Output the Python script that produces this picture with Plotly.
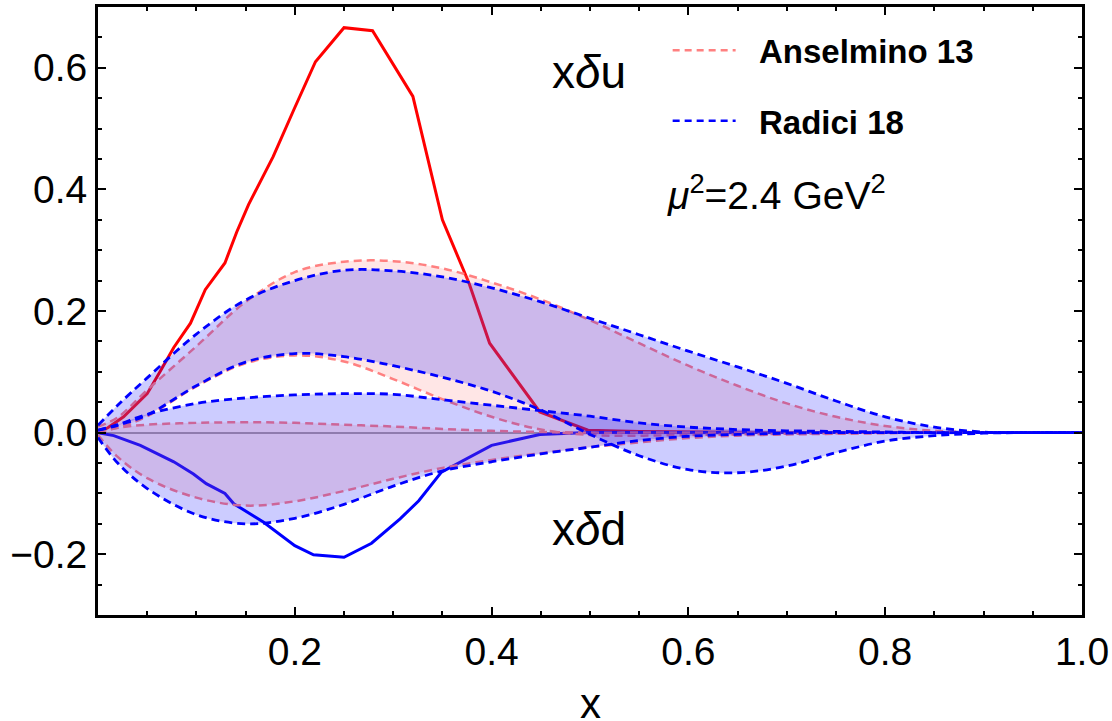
import plotly.graph_objects as go

# Common x grid for the uncertainty bands
x_grid = [0, 0.02, 0.05, 0.1, 0.15, 0.2, 0.25, 0.3, 0.35, 0.4, 0.45, 0.5,
          0.55, 0.6, 0.65, 0.7, 0.75, 0.8, 0.85, 0.9, 0.95, 1.0]

# Anselmino 13: x*delta u band
ans_u_hi = [0.01, 0.025, 0.07, 0.142, 0.215, 0.264, 0.281, 0.282, 0.27, 0.247, 0.219, 0.185,
            0.147, 0.11, 0.077, 0.048, 0.026, 0.011, 0.003, 0.0005, 0, 0]
ans_u_lo = [0.002, 0.008, 0.027, 0.076, 0.114, 0.127, 0.117, 0.088, 0.055, 0.026, 0.005, -0.004,
            -0.005, -0.004, -0.003, -0.002, -0.001, 0, 0, 0, 0, 0]
# Anselmino 13: x*delta d band
ans_d_hi = [0.0, 0.008, 0.013, 0.016, 0.017, 0.016, 0.013, 0.01, 0.006, 0.003, 0.001, 0,
            0, 0, 0, 0, 0, 0, 0, 0, 0, 0]
ans_d_lo = [-0.004, -0.04, -0.075, -0.107, -0.12, -0.113, -0.096, -0.076, -0.058, -0.045, -0.034, -0.024,
            -0.016, -0.009, -0.005, -0.003, -0.002, -0.001, 0, 0, 0, 0]

# Radici 18: x*delta u band
rad_u_hi = [0.012, 0.045, 0.09, 0.162, 0.218, 0.25, 0.267, 0.266, 0.256, 0.238, 0.215, 0.188,
            0.161, 0.134, 0.108, 0.081, 0.052, 0.026, 0.009, 0.001, 0, 0]
rad_u_lo = [0.004, 0.012, 0.029, 0.077, 0.116, 0.13, 0.125, 0.11, 0.091, 0.068, 0.037, -0.003,
            -0.038, -0.061, -0.066, -0.055, -0.033, -0.014, -0.005, -0.001, 0, 0]
# Radici 18: x*delta d band
rad_d_hi = [0.004, 0.013, 0.03, 0.048, 0.057, 0.062, 0.064, 0.063, 0.054, 0.045, 0.036, 0.027,
            0.016, 0.009, 0.005, 0.003, 0.002, 0.001, 0, 0, 0, 0]
rad_d_lo = [-0.008, -0.05, -0.092, -0.135, -0.15, -0.141, -0.118, -0.088, -0.063, -0.048, -0.035, -0.024,
            -0.013, -0.006, -0.003, -0.001, 0, 0, 0, 0, 0, 0]

# Lattice-style central curves
du_x = [0, 0.01, 0.026, 0.05, 0.063, 0.077, 0.094, 0.109, 0.129, 0.141, 0.153, 0.178, 0.199,
        0.221, 0.25, 0.279, 0.32, 0.35, 0.377, 0.398, 0.449, 0.498, 0.55, 0.6, 0.7, 0.8, 0.9, 1.0]
du_y = [0, 0.008, 0.026, 0.064, 0.10, 0.14, 0.18, 0.235, 0.279, 0.33, 0.375, 0.454, 0.531,
        0.61, 0.666, 0.661, 0.553, 0.35, 0.246, 0.147, 0.034, 0.004, 0.002, 0.001, 0, 0, 0, 0]
dd_x = [0, 0.016, 0.043, 0.077, 0.097, 0.110, 0.129, 0.138, 0.168, 0.2, 0.219, 0.25, 0.278,
        0.307, 0.326, 0.349, 0.4, 0.449, 0.498, 0.6, 0.7, 0.8, 0.9, 1.0]
dd_y = [0, -0.005, -0.021, -0.048, -0.068, -0.084, -0.100, -0.117, -0.147, -0.186, -0.201, -0.205,
        -0.182, -0.142, -0.112, -0.065, -0.021, -0.003, 0, 0, 0, 0, 0, 0]

x_ticks = [0.2, 0.4, 0.6, 0.8, 1.0]
x_ticktext = ["0.2", "0.4", "0.6", "0.8", "1.0"]
y_ticks = [-0.2, 0.0, 0.2, 0.4, 0.6]
y_ticktext = ["\u22120.2", "0.0", "0.2", "0.4", "0.6"]

PINK = "rgb(255,128,128)"
PINK_FILL = "rgba(255,128,128,0.2)"
BLUE = "rgb(0,0,255)"
BLUE_FILL = "rgba(0,0,255,0.2)"
FONT = "Liberation Sans, Arial, sans-serif"

fig = go.Figure()

# Central curves first, so the bands tint them
fig.add_trace(go.Scatter(x=du_x, y=du_y, mode="lines",
                         line=dict(color="rgb(255,0,0)", width=3), showlegend=False))
fig.add_trace(go.Scatter(x=dd_x, y=dd_y, mode="lines",
                         line=dict(color="rgb(0,0,255)", width=3), showlegend=False))


def add_band(hi, lo, fill):
    # filled polygon between the two bounds
    fig.add_trace(go.Scatter(x=x_grid + x_grid[::-1], y=hi + lo[::-1], mode="lines",
                             fill="toself", fillcolor=fill, line=dict(width=0, shape="spline"),
                             hoverinfo="skip", showlegend=False))


def add_bounds(curves, color, width):
    # dashed band edges
    for c in curves:
        fig.add_trace(go.Scatter(x=x_grid, y=c, mode="lines",
                                 line=dict(color=color, width=width, dash="8px,5px", shape="spline"),
                                 showlegend=False))


add_band(ans_u_hi, ans_u_lo, PINK_FILL)
add_band(ans_d_hi, ans_d_lo, PINK_FILL)
add_bounds([ans_u_hi, ans_u_lo, ans_d_hi, ans_d_lo], PINK, 2.5)
add_band(rad_u_hi, rad_u_lo, BLUE_FILL)
add_band(rad_d_hi, rad_d_lo, BLUE_FILL)
add_bounds([rad_u_hi, rad_u_lo, rad_d_hi, rad_d_lo], BLUE, 2.8)

axis_common = dict(showline=True, linecolor="black", linewidth=3, mirror="allticks",
                   ticks="inside", ticklen=8, tickwidth=2, tickcolor="black",
                   showgrid=False, automargin=False,
                   tickfont=dict(family=FONT, size=39, color="black"))

fig.update_xaxes(range=[0, 1], tickmode="array", tickvals=x_ticks, ticktext=x_ticktext,
                 zeroline=False,
                 minor=dict(ticks="inside", ticklen=4, tickwidth=2, tickcolor="black",
                            tickmode="linear", tick0=0, dtick=0.05, showgrid=False),
                 **axis_common)
fig.update_yaxes(range=[-0.3, 0.7], tickmode="array", tickvals=y_ticks, ticktext=y_ticktext,
                 zeroline=True, zerolinecolor="rgb(160,160,160)", zerolinewidth=2,
                 minor=dict(ticks="inside", ticklen=4, tickwidth=2, tickcolor="black",
                            tickmode="linear", tick0=0, dtick=0.05, showgrid=False),
                 **axis_common)

# x-axis label
fig.add_annotation(xref="paper", yref="paper", x=0.5, y=-0.146, xanchor="center", yanchor="middle",
                   showarrow=False, text="x", font=dict(family=FONT, size=42, color="black"))

# Legend keys and labels
legend_rows = [("Anselmino 13", PINK, 0.929), ("Radici 18", BLUE, 0.813)]
for label, color, yy in legend_rows:
    fig.add_shape(type="line", xref="paper", yref="paper", x0=0.584, x1=0.648, y0=yy, y1=yy,
                  line=dict(color=color, width=2.5, dash="7px,5px"))
    fig.add_annotation(xref="paper", yref="paper", x=0.670, y=yy - 0.003, xanchor="left",
                       yanchor="middle", showarrow=False, text="<b>" + label + "</b>",
                       font=dict(family=FONT, size=33, color="black"))

fig.add_annotation(xref="paper", yref="paper", x=0.499, y=0.893, xanchor="center", yanchor="middle",
                   showarrow=False, text="x<i>\u03b4</i>u",
                   font=dict(family=FONT, size=46, color="black"))
fig.add_annotation(xref="paper", yref="paper", x=0.499, y=0.142, xanchor="center", yanchor="middle",
                   showarrow=False, text="x<i>\u03b4</i>d",
                   font=dict(family=FONT, size=46, color="black"))
fig.add_annotation(xref="paper", yref="paper", x=0.576, y=0.695, xanchor="left", yanchor="middle",
                   showarrow=False, text="<i>\u03bc</i><sup>2</sup>=2.4 GeV<sup>2</sup>",
                   font=dict(family=FONT, size=39, color="black"))

fig.update_layout(width=1112, height=721, margin=dict(l=98, r=30, t=7, b=106),
                  paper_bgcolor="white", plot_bgcolor="white", showlegend=False)

fig.write_html("out.html")
